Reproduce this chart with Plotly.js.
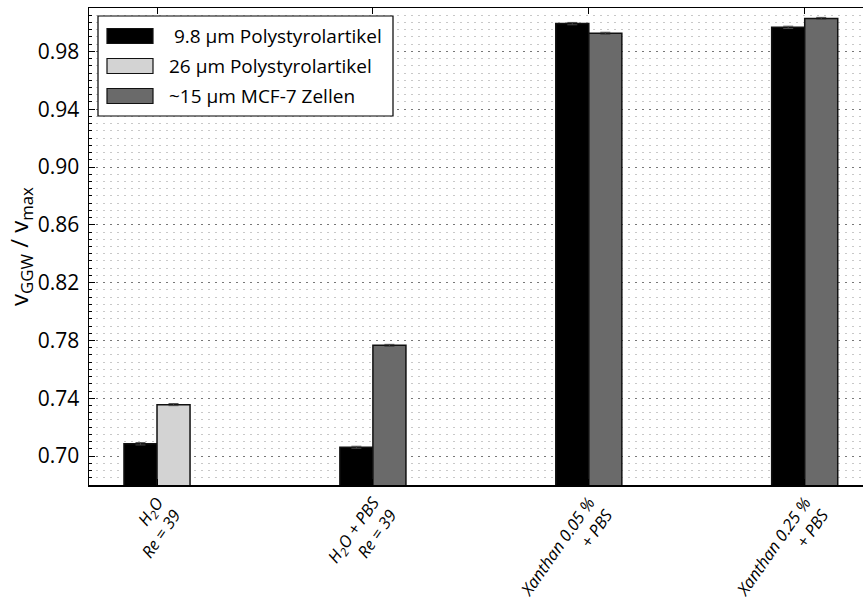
<!DOCTYPE html>
<html>
<head>
<meta charset="utf-8">
<script src="https://cdn.plot.ly/plotly-3.0.1.min.js"></script>
<style>html,body{margin:0;padding:0;background:#fff;}#chart{width:863px;height:608px;}</style>
</head>
<body>
<div id="chart"></div>
<script>
// ---- data ----
const categories = [
  'H<sub>2</sub>O<br>Re = 39',
  'H<sub>2</sub>O + PBS<br>Re = 39',
  'Xanthan 0.05 %<br>+ PBS',
  'Xanthan 0.25 %<br>+ PBS'
];
const seriesNames = ['\u00a09.8 \u03bcm Polystyrolartikel', '26 \u03bcm Polystyrolartikel', '~15 \u03bcm MCF-7 Zellen'];
const yTitle = 'v<sub>GGW</sub> / v<sub>max</sub>';
const ps98 = [0.7085, 0.7061, 0.9992, 0.9966];
const ps98Err = [0.0008, 0.0007, 0.0008, 0.0008];
const ps26 = [0.7356, null, null, null];
const ps26Err = [0.0007, null, null, null];
const mcf7 = [null, 0.7766, 0.9925, 1.0028];
const mcf7Err = [null, 0.0007, 0.0007, 0.0007];
const yTickVals = [0.70, 0.74, 0.78, 0.82, 0.86, 0.90, 0.94, 0.98];

const colors = ['#000000', '#d3d3d3', '#6a6a6a'];
const barW = 0.153;

function barTrace(vals, errs, i, offset) {
  return {
    type: 'bar', x: categories, y: vals, name: seriesNames[i],
    offset: offset, width: barW,
    marker: {color: colors[i], line: {color: '#111', width: 1.5}},
    error_y: {type: 'data', array: errs, visible: true, color: '#444', thickness: 1, width: 5},
    showlegend: false, cliponaxis: true
  };
}
const data = [
  barTrace(ps98, ps98Err, 0, -barW),
  barTrace(ps26, ps26Err, 1, 0),
  barTrace(mcf7, mcf7Err, 2, 0)
];

// ---- manual legend (wide patches like the reference) ----
const L = 89, T = 8, PW = 774, PH = 477;
const px = v => (v - L) / PW;
const py = v => (T + PH - v) / PH;
const shapes = [{type: 'rect', xref: 'paper', yref: 'paper', x0: px(98), x1: px(393), y0: py(116), y1: py(16),
  line: {color: '#000', width: 1.2}, fillcolor: '#fff', layer: 'above'}];
const annotations = [];
const rowY = [36, 66, 96];
seriesNames.forEach((n, i) => {
  shapes.push({type: 'rect', xref: 'paper', yref: 'paper', x0: px(107), x1: px(153), y0: py(rowY[i] + 7.5), y1: py(rowY[i] - 7.5),
    line: {color: '#111', width: 1.2}, fillcolor: colors[i], layer: 'above'});
  annotations.push({xref: 'paper', yref: 'paper', x: px(167), y: py(rowY[i]), xanchor: 'left', yanchor: 'middle',
    text: n, showarrow: false, font: {size: 19, color: '#000', family: 'Open Sans, sans-serif'}});
});

const layout = {
  width: 863, height: 608,
  margin: {l: L, r: 0, t: T, b: 608 - T - PH},
  paper_bgcolor: '#fff', plot_bgcolor: '#fff',
  barmode: 'overlay', bargap: 0,
  font: {family: 'Open Sans, sans-serif', color: '#000'},
  xaxis: {
    type: 'category', range: [-0.315, 3.27],
    tickangle: -55, tickfont: {size: 16.5, style: 'italic'},
    ticks: 'inside', ticklen: 6, tickcolor: '#000',
    showline: true, linecolor: '#000', linewidth: 1.5, mirror: 'ticks',
    showgrid: false, zeroline: false
  },
  yaxis: {
    range: [0.68, 1.01],
    tickvals: yTickVals, tickformat: '.2f', tickfont: {size: 21},
    ticklabelstandoff: 4,
    ticks: 'inside', ticklen: 6, tickcolor: '#000',
    showline: true, linecolor: '#000', linewidth: 1.5, mirror: false,
    showgrid: true, gridcolor: '#777', gridwidth: 1, griddash: '1.5px,5.5px',
    zeroline: false,
    minor: {dtick: 0.005, tick0: 0.70, ticks: 'inside', ticklen: 3, tickcolor: '#000',
      showgrid: true, gridcolor: '#c8c8c8', gridwidth: 1, griddash: '1.5px,5.5px'},
    title: {text: yTitle, font: {size: 24}, standoff: 2}
  },
  shapes: shapes,
  annotations: annotations
};

Plotly.newPlot('chart', data, layout, {displayModeBar: false, staticPlot: true});
</script>
</body>
</html>
